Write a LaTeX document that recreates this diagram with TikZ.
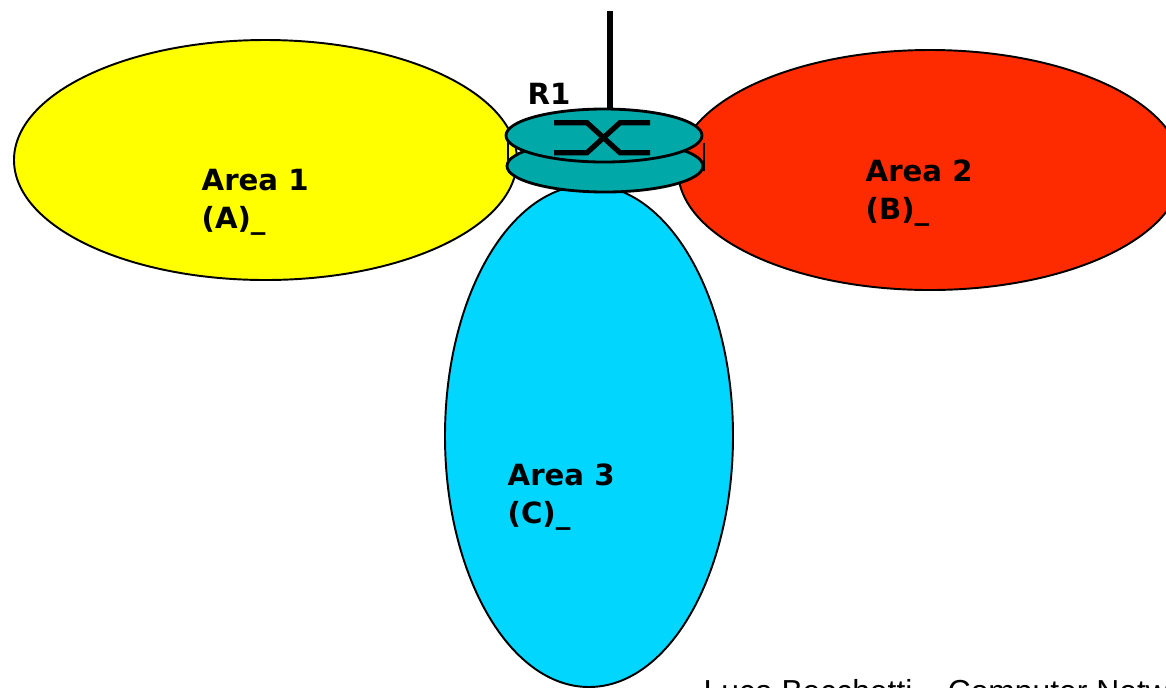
\documentclass[tikz,border=0pt]{standalone}
\usepackage{fontspec}
\setmainfont{Liberation Sans}
\newfontfamily\labelfont{DejaVu Sans}
\definecolor{areayellow}{RGB}{255,255,0}
\definecolor{areared}{RGB}{255,43,0}
\definecolor{areablue}{RGB}{0,214,255}
\definecolor{routerteal}{RGB}{0,168,168}
\tikzset{
    areadisc/.style={draw=black, line width=0.55pt},
    arealabel/.style={anchor=west, align=left, inner sep=0pt, font=\labelfont\bfseries\fontsize{8.3}{10.8}\selectfont},
    routerdisc/.style={fill=routerteal, draw=black, line width=0.8pt},
    routerarrow/.style={line width=1.5pt, line join=miter},
}

\begin{document}
\begin{tikzpicture}[x=0.01cm, y=-0.01cm]
    \useasboundingbox (0,0) rectangle (1166,687);
    \clip (0,0) rectangle (1166,687);

    % Areas
    \filldraw[areadisc, fill=areayellow] (265.5,160) ellipse (251.5 and 120);
    \filldraw[areadisc, fill=areared] (930,170) ellipse (252 and 120);
    \filldraw[areadisc, fill=areablue] (589,436) ellipse (144 and 251);
    \node[arealabel] (area1) at (201,202) {Area 1\\(A)\_};
    \node[arealabel] (area2) at (865,193) {Area 2\\(B)\_};
    \node[arealabel] (area3) at (507,497) {Area 3\\(C)\_};

    % Uplink
    \draw[line width=1.7pt] (610,11) -- (610,108);

    % Router R1
    \draw[line width=0.8pt] (508,140) -- (508,168);
    \draw[line width=0.8pt] (704,143) -- (704,171);
    \filldraw[routerdisc] (605,166) ellipse (98 and 26);
    \filldraw[routerdisc] (604,135.5) ellipse (98 and 26.5);
    \draw[routerarrow] (554,122.7) -- (587,122.7) -- (620,152.7) -- (650,152.7);
    \draw[routerarrow] (554,152.7) -- (587,152.7) -- (620,122.7) -- (650,122.7);
    \node[arealabel] (r1) at (527,94) {R1};

    % Footer
    \node[anchor=base west, inner sep=0pt, font=\fontsize{9.05}{11}\selectfont] (footer) at (703,702) {Luca Becchetti -- Computer Networks};
\end{tikzpicture}
\end{document}
